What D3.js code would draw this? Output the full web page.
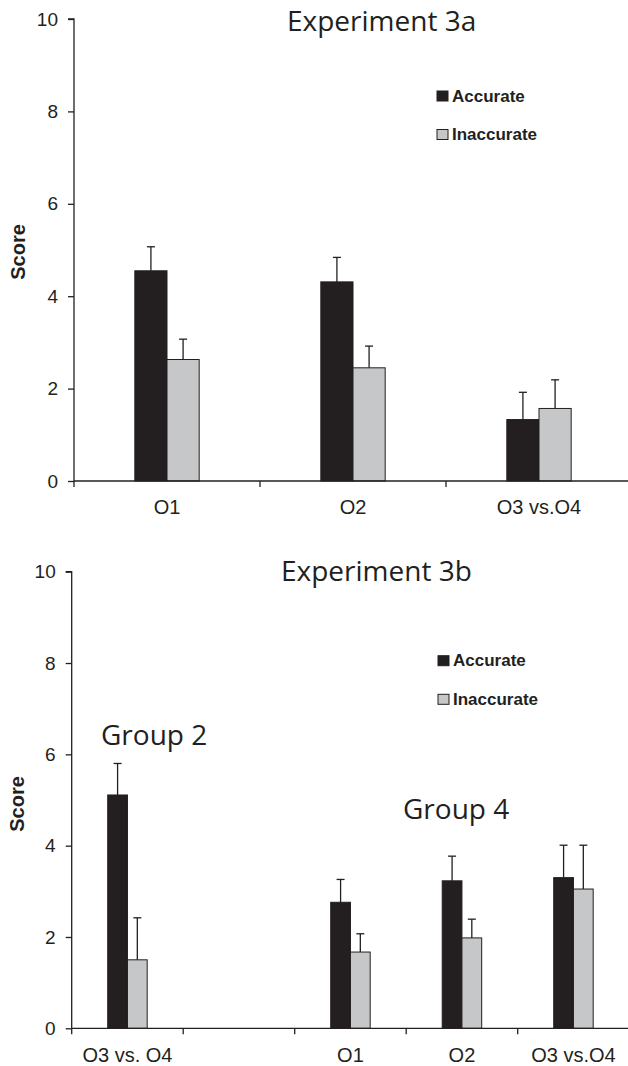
<!DOCTYPE html>
<html>
<head>
<meta charset="utf-8">
<script src="https://cdn.jsdelivr.net/npm/d3@7/dist/d3.min.js"></script>
<style>
  html, body { margin: 0; padding: 0; background: #fff; }
  svg { display: block; }
</style>
</head>
<body>
<svg id="chart" width="628" height="1066"></svg>
<script>
// ---------- DATA ----------
const seriesNames = ["Accurate", "Inaccurate"];
const yTicks = [0, 2, 4, 6, 8, 10];

const cats3a = ["O1", "O2", "O3 vs.O4"];
const acc3a = [4.55, 4.31, 1.33];
const accErr3a = [0.52, 0.53, 0.59];
const inacc3a = [2.63, 2.45, 1.57];
const inaccErr3a = [0.44, 0.47, 0.62];

const cats3b = ["O3 vs. O4", "", "O1", "O2", "O3 vs.O4"];
const acc3b = [5.11, null, 2.76, 3.23, 3.30];
const accErr3b = [0.69, null, 0.50, 0.54, 0.71];
const inacc3b = [1.50, null, 1.67, 1.98, 3.05];
const inaccErr3b = [0.92, null, 0.40, 0.41, 0.96];

// ---------- STYLE / LAYOUT ----------
const INK = "#231f20";
const GRAY = "#c6c7c8";
const colors = [INK, GRAY];
const svg = d3.select("#chart");

function drawPanel(cfg) {
  const g = svg.append("g");
  const idx = cfg.cats.map((d, i) => i);
  const x = d3.scaleBand().domain(idx).range([cfg.x0, cfg.x1]).paddingInner(0).paddingOuter(0);
  const y = d3.scaleLinear().domain([0, 10]).range([cfg.yBottom, cfg.yTop]);
  const bw = x.bandwidth() * cfg.barFrac;

  // bars
  const series = [
    { vals: cfg.acc, errs: cfg.accErr, color: colors[0], off: -1 },
    { vals: cfg.inacc, errs: cfg.inaccErr, color: colors[1], off: 0 }
  ];
  series.forEach(s => {
    idx.forEach(i => {
      const v = s.vals[i];
      if (v == null) return;
      const cx = x(i) + x.bandwidth() / 2;
      const bx = cx + s.off * bw;
      // error bar (drawn first so bar top line overlays)
      const e = s.errs[i];
      const ex = bx + bw / 2;
      g.append("line").attr("x1", ex).attr("x2", ex)
        .attr("y1", y(v)).attr("y2", y(v + e))
        .attr("stroke", INK).attr("stroke-width", 1.3);
      g.append("line").attr("x1", ex - 4).attr("x2", ex + 4)
        .attr("y1", y(v + e)).attr("y2", y(v + e))
        .attr("stroke", INK).attr("stroke-width", 1.3);
      g.append("rect")
        .attr("x", bx).attr("y", y(v))
        .attr("width", bw).attr("height", y(0) - y(v))
        .attr("fill", s.color).attr("stroke", INK).attr("stroke-width", 1);
    });
  });

  // y axis
  const yAxis = d3.axisLeft(y).tickValues(yTicks).tickSize(6).tickPadding(10).tickFormat(d3.format("d"));
  const ya = g.append("g").attr("transform", `translate(${cfg.x0},0)`).call(yAxis);
  ya.select(".domain").attr("stroke", INK).attr("stroke-width", 1.3).attr("d", `M-6,${cfg.yTop}H0V${cfg.yBottom}`);
  ya.selectAll(".tick line").attr("stroke", INK).attr("stroke-width", 1.3);
  ya.selectAll(".tick text").attr("fill", INK)
    .style("font-family", "'Liberation Sans', Arial, sans-serif").style("font-size", "19px");

  // x axis: labels at band centers, ticks at band boundaries
  const xAxis = d3.axisBottom(x).tickSize(0).tickPadding(0).tickFormat(i => cfg.cats[i]);
  const xa = g.append("g").attr("transform", `translate(0,${cfg.yBottom})`).call(xAxis);
  xa.select(".domain").remove();
  xa.selectAll(".tick text").attr("fill", INK).attr("dy", null).attr("y", cfg.xLabelDy)
    .style("font-family", "'Liberation Sans', Arial, sans-serif").style("font-size", "20px");
  g.append("line").attr("x1", cfg.x0).attr("x2", 628)
    .attr("y1", cfg.yBottom).attr("y2", cfg.yBottom)
    .attr("stroke", INK).attr("stroke-width", 1.3);
  idx.forEach(i => {
    g.append("line").attr("x1", x(i)).attr("x2", x(i))
      .attr("y1", cfg.yBottom).attr("y2", cfg.yBottom + 6)
      .attr("stroke", INK).attr("stroke-width", 1.3);
  });

  // y label
  g.append("text").text("Score")
    .attr("transform", `translate(${cfg.scoreX},${cfg.scoreY}) rotate(-90)`)
    .attr("text-anchor", "middle").attr("fill", INK)
    .style("font-family", "'Liberation Sans', Arial, sans-serif")
    .style("font-size", "20px").style("font-weight", "bold");

  // title
  g.append("text").text(cfg.title).attr("x", cfg.titleX).attr("y", cfg.titleY)
    .attr("fill", INK).style("font-family", "'Open Sans', sans-serif").style("font-size", "28px");

  // group labels
  cfg.groups.forEach(gr => {
    g.append("text").text(gr.text).attr("x", gr.x).attr("y", gr.y)
      .attr("fill", INK).style("font-family", "'Open Sans', sans-serif").style("font-size", "28px");
  });

  // legend
  seriesNames.forEach((n, k) => {
    const ly = cfg.legendY[k];
    g.append("rect").attr("x", cfg.legendX).attr("y", ly).attr("width", 11).attr("height", 10)
      .attr("fill", colors[k]).attr("stroke", INK).attr("stroke-width", 1);
    g.append("text").text(n).attr("x", cfg.legendX + 15).attr("y", ly + 10.5)
      .attr("fill", INK).style("font-family", "'Liberation Sans', Arial, sans-serif")
      .style("font-size", "17px").style("font-weight", "bold");
  });
}

drawPanel({
  cats: cats3a, acc: acc3a, accErr: accErr3a, inacc: inacc3a, inaccErr: inaccErr3a,
  x0: 74, x1: 632, yTop: 19, yBottom: 481, barFrac: 0.173,
  xLabelDy: 33, scoreX: 25, scoreY: 252,
  title: "Experiment 3a", titleX: 287, titleY: 31,
  groups: [],
  legendX: 437, legendY: [91, 129.5]
});

drawPanel({
  cats: cats3b, acc: acc3b, accErr: accErr3b, inacc: inacc3b, inaccErr: inaccErr3b,
  x0: 71.7, x1: 629.2, yTop: 571.7, yBottom: 1028.3, barFrac: 0.177,
  xLabelDy: 34, scoreX: 23.5, scoreY: 804,
  title: "Experiment 3b", titleX: 281, titleY: 581,
  groups: [{ text: "Group 2", x: 101, y: 745 }, { text: "Group 4", x: 403, y: 819 }],
  legendX: 438, legendY: [655.7, 694.3]
});
</script>
</body>
</html>
